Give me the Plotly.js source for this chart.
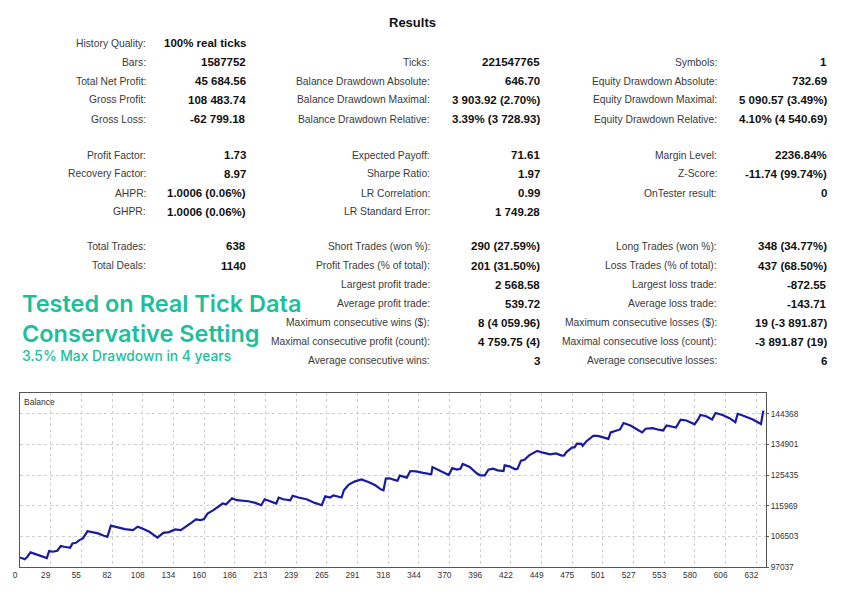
<!DOCTYPE html>
<html>
<head>
<meta charset="utf-8">
<script src="https://cdn.plot.ly/plotly-3.0.1.min.js"></script>
<style>
  html, body { margin: 0; padding: 0; background: #ffffff; }
  #chart { width: 848px; height: 600px; }
</style>
</head>
<body>
<div id="chart"></div>
<script>
// ---------------- DATA ----------------
const reportTitle = "Results";

const col1Labels = ["History Quality:", "Bars:", "Total Net Profit:", "Gross Profit:", "Gross Loss:",
  "Profit Factor:", "Recovery Factor:", "AHPR:", "GHPR:",
  "Total Trades:", "Total Deals:", "", "", "", "", ""];
const col1Values = ["100% real ticks", "1587752", "45 684.56", "108 483.74", "-62 799.18",
  "1.73", "8.97", "1.0006 (0.06%)", "1.0006 (0.06%)",
  "638", "1140", "", "", "", "", ""];

const col2Labels = ["", "Ticks:", "Balance Drawdown Absolute:", "Balance Drawdown Maximal:", "Balance Drawdown Relative:",
  "Expected Payoff:", "Sharpe Ratio:", "LR Correlation:", "LR Standard Error:",
  "Short Trades (won %):", "Profit Trades (% of total):", "Largest profit trade:", "Average profit trade:",
  "Maximum consecutive wins ($):", "Maximal consecutive profit (count):", "Average consecutive wins:"];
const col2Values = ["", "221547765", "646.70", "3 903.92 (2.70%)", "3.39% (3 728.93)",
  "71.61", "1.97", "0.99", "1 749.28",
  "290 (27.59%)", "201 (31.50%)", "2 568.58", "539.72",
  "8 (4 059.96)", "4 759.75 (4)", "3"];

const col3Labels = ["", "Symbols:", "Equity Drawdown Absolute:", "Equity Drawdown Maximal:", "Equity Drawdown Relative:",
  "Margin Level:", "Z-Score:", "OnTester result:", "",
  "Long Trades (won %):", "Loss Trades (% of total):", "Largest loss trade:", "Average loss trade:",
  "Maximum consecutive losses ($):", "Maximal consecutive loss (count):", "Average consecutive losses:"];
const col3Values = ["", "1", "732.69", "5 090.57 (3.49%)", "4.10% (4 540.69)",
  "2236.84%", "-11.74 (99.74%)", "0", "",
  "348 (34.77%)", "437 (68.50%)", "-872.55", "-143.71",
  "19 (-3 891.87)", "-3 891.87 (19)", "6"];

const promoLine1 = "Tested on Real Tick Data";
const promoLine2 = "Conservative Setting";
const promoLine3 = "3.5% Max Drawdown in 4 years";

const chartLabel = "Balance";

const tradeIdx = [0,4,6,9,14,18,23,25,28,32,35,38,43,45,48,51,54,58,62,67,72,75,78,84,90,97,101,105,111,118,
  123,128,133,138,141,147,151,155,158,161,166,170,174,177,182,186,196,202,207,210,214,220,222,226,232,234,239,246,253,259,
  262,266,269,276,278,282,287,293,299,305,310,312,314,317,322,324,326,332,335,340,346,353,354,359,363,368,371,375,378,380,
  386,392,395,399,402,406,410,415,416,420,425,427,430,433,437,444,449,455,460,465,467,469,474,476,478,482,483,486,492,496,
  502,505,507,512,515,518,524,529,534,537,543,549,552,555,563,567,572,579,582,584,589,594,597,603,609,614,616,622,629,636,638];
const balance = [100000,99411,100027,101569,100952,100428,99812,101970,101754,102062,103511,103295,102987,104344,104529,105361,105885,108136,107920,107427,106687,106378,109831,109277,108752,108444,109523,108968,107920,106132,
  107612,107828,108660,108444,109277,110695,111743,111527,111835,113593,114610,115627,116676,116460,118310,117693,117385,116861,116152,118001,117385,116676,118526,118001,117693,119080,118526,118001,116861,116152,
  118926,118526,119142,118526,120776,122472,123458,124106,123335,122318,120992,120776,124383,124476,123921,123705,125308,124692,126726,126634,126171,125709,127959,127158,126418,125493,127620,127158,127405,128884,
  127959,126017,125401,125401,127158,127466,126942,126695,128484,128175,127250,127405,129933,130179,131567,132954,132399,131875,132183,131505,131567,132584,134033,134033,135173,135112,134495,135883,137578,137578,
  136962,136654,138658,139274,139582,141586,140816,139737,138658,139798,139983,139428,139274,140816,140199,142604,142357,141186,142665,144053,143652,142665,144669,144053,143066,141833,144423,143683,142665,141278,145400];

const xTickLabels = ["0","29","55","82","108","134","160","186","213","239","265","291","318","344","370","396","422","449","475","501","527","553","580","606","632"];
const yTickVals = [97037, 106503, 115969, 125435, 134901, 144368];

// ---------------- LAYOUT HELPERS ----------------
const W = 848, H = 600;
const PL = 20, PR = 766, PT = 393, PB = 567;
function px(x) { return (x - PL) / (PR - PL); }
function py(y) { return (PB - y) / (PB - PT); }

const sans = '"Liberation Sans", Arial, sans-serif';

const annotations = [];
function addText(x, y, text, font, xanchor) {
  annotations.push({
    xref: 'paper', yref: 'paper', x: px(x), y: py(y),
    text: text, showarrow: false, xanchor: xanchor || 'right', yanchor: 'middle',
    font: font, borderpad: 0
  });
}

addText(412, 22, '<b>' + reportTitle + '</b>', {family: sans, size: 13, color: '#111'}, 'center');

// row y positions (3 blocks, 19px spacing)
const rowYs = [];
[[43, 5], [155, 4], [246.5, 7]].forEach(([y0, n]) => { for (let i = 0; i < n; i++) rowYs.push(y0 + 19 * i); });

const labelFont = {family: sans, size: 10.3, color: '#3a3a3a'};
const valueFont = {family: sans, size: 11.5, color: '#111'};
const cols = [
  {labels: col1Labels, values: col1Values, lx: 147, vx: 247},
  {labels: col2Labels, values: col2Values, lx: 431, vx: 541},
  {labels: col3Labels, values: col3Values, lx: 718, vx: 828}
];
cols.forEach(c => {
  c.labels.forEach((lab, i) => {
    if (lab) addText(c.lx, rowYs[i], lab, labelFont, 'right');
    if (c.values[i]) addText(c.vx, rowYs[i], '<b>' + c.values[i] + '</b>', valueFont, 'right');
  });
});

const green = '#1bbf9b';
const promoFam = 'Inter, "Open Sans", sans-serif';
addText(21, 303, promoLine1, {family: promoFam, size: 23.5, color: green, weight: 600}, 'left');
addText(21, 333, promoLine2, {family: promoFam, size: 23.5, color: green, weight: 600}, 'left');
addText(21, 356, promoLine3, {family: promoFam, size: 13.8, color: green, weight: 500}, 'left');

addText(23, 401.5, chartLabel, {family: sans, size: 8.5, color: '#333'}, 'left');

// ---------------- TRACE ----------------
const trace = {
  x: tradeIdx, y: balance, type: 'scatter', mode: 'lines',
  line: {color: '#1a1aa0', width: 2.2}, hoverinfo: 'skip'
};

const xTickVals = xTickLabels.map((_, k) => k * 632 / 24);

const layout = {
  width: W, height: H,
  margin: {l: PL, r: W - PR, t: PT, b: H - PB, pad: 0},
  paper_bgcolor: '#ffffff', plot_bgcolor: '#ffffff',
  showlegend: false,
  font: {family: sans, color: '#333'},
  xaxis: {
    range: [0, 640.3], tickmode: 'array', tickvals: xTickVals, ticktext: xTickLabels,
    showgrid: true, gridcolor: '#cfcfcf', griddash: '3px,3px', gridwidth: 1,
    zeroline: false, showline: true, mirror: true, linecolor: '#555', linewidth: 1,
    ticks: '', tickfont: {family: sans, size: 8.3, color: '#333'},
    ticklabelshift: -5, ticklabelstandoff: 0, fixedrange: true
  },
  yaxis: {
    side: 'right', range: [97037, 150860], tickmode: 'array', tickvals: yTickVals,
    ticktext: yTickVals.map(String),
    showgrid: true, gridcolor: '#cfcfcf', griddash: '3px,3px', gridwidth: 1,
    zeroline: false, showline: true, mirror: true, linecolor: '#555', linewidth: 1,
    ticks: 'outside', ticklen: 2, tickcolor: '#555', ticklabelstandoff: 0,
    tickfont: {family: sans, size: 8.3, color: '#333'}, fixedrange: true
  },
  annotations: annotations
};

Plotly.newPlot('chart', [trace], layout, {displayModeBar: false, staticPlot: true});
</script>
</body>
</html>
